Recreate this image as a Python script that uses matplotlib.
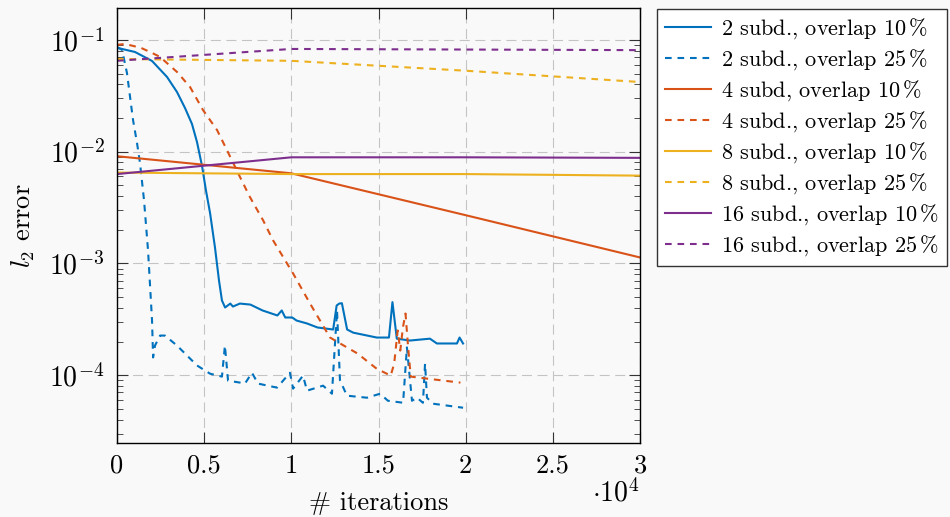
import numpy as np
import matplotlib
matplotlib.use("Agg")
import matplotlib.pyplot as plt
from matplotlib.ticker import FuncFormatter, LogLocator, FixedLocator

plt.rcParams['font.family'] = ['cmr10', 'DejaVu Serif']
plt.rcParams['mathtext.fontset'] = 'cm'
plt.rcParams['axes.unicode_minus'] = False
plt.rcParams['font.size'] = 17

# colours (pgfplots / matlab style)
blue = '#0072BD'
orange = '#D95319'
yellow = '#EDB120'
purple = '#7E2F8E'

# ---- data ----
# 2 subdomains
x_2_10 = [0, 1030, 2010, 2870, 3440, 3900, 4300, 4590, 4880, 5100, 5340, 5620, 5850,
          6020, 6200, 6500, 6650, 7050, 7650, 8350, 9200, 9450, 9650, 10050, 10300,
          10900, 11500, 12400, 12600, 12750, 12900, 13200, 13550, 14900, 15600,
          15800, 16050, 16800, 17950, 18350, 19500, 19650, 19850]
y_2_10 = [0.085, 0.078, 0.0648, 0.0466, 0.0342, 0.0246, 0.0177, 0.01217, 0.00741,
          0.00452, 0.00281, 0.00139, 0.000704, 0.000466, 0.000403, 0.000437,
          0.000411, 0.000437, 0.000428, 0.000379, 0.000342, 0.000379, 0.000328,
          0.000328, 0.000308, 0.00029, 0.000267, 0.000256, 0.00042, 0.000437,
          0.00044, 0.000256, 0.00024, 0.000217, 0.000217, 0.00045, 0.000212,
          0.000204, 0.000212, 0.000192, 0.000192, 0.000217, 0.000192]

x_2_25 = [0, 290, 570, 750, 920, 1150, 1320, 1550, 1780, 2010, 2070, 2180, 2470,
          2750, 3440, 4590, 5340, 6020, 6190, 6370, 7060, 7340, 7740, 8090, 9180,
          9920, 10100, 10670, 10900, 11820, 12330, 12620, 12790, 13190, 14340, 15090,
          15540, 16410, 16630, 16920, 17210, 17550, 17670, 17780, 18130, 19850]
y_2_25 = [0.0866, 0.0814, 0.0507, 0.0308, 0.0192, 0.0119, 0.0079, 0.00368, 0.00131,
          0.000308, 0.000144, 0.000184, 0.000226, 0.000226, 0.000184, 0.000122,
          0.000103, 0.000097, 0.000184, 0.0000893, 0.0000857, 0.000084, 0.000105,
          0.000084, 0.0000773, 0.000105, 0.0000757, 0.000099, 0.0000726, 0.0000805,
          0.0000682, 0.00038, 0.00009, 0.0000655, 0.0000628, 0.0000682, 0.000059,
          0.0000566, 0.000177, 0.000059, 0.0000628, 0.0000566, 0.000127, 0.0000628,
          0.0000555, 0.0000511]

# 4 subdomains
x_4_10 = [0, 10000, 20000, 30000]
y_4_10 = [0.0091, 0.0064, 0.0027, 0.00113]

x_4_25 = [0, 460, 1380, 2010, 2470, 3440, 4190, 4930, 5740, 6310, 7060, 7630, 8380,
          8950, 9750, 10100, 11070, 12220, 12800, 13800, 14900, 15700, 15900, 16100,
          16250, 16400, 16550, 16700, 16850, 17800, 19700]
y_4_25 = [0.0902, 0.0921, 0.0848, 0.0765, 0.0704, 0.0517, 0.0379, 0.0236, 0.0156,
          0.0103, 0.00591, 0.00391, 0.00243, 0.00161, 0.00100, 0.000813, 0.000438,
          0.000217, 0.000192, 0.000156, 0.000114, 0.000099, 0.000127, 0.000251,
          0.000166, 0.000267, 0.000356, 0.000177, 0.000097, 0.000093, 0.0000857]

# 8 subdomains
x_8 = [0, 10000, 20000, 30000]
y_8_10 = [0.0065, 0.0063, 0.0063, 0.0061]
y_8_25 = [0.0675, 0.065, 0.053, 0.042]

# 16 subdomains
x_16 = [0, 10000, 20000, 30000]
y_16_10 = [0.0063, 0.0089, 0.0089, 0.0088]
y_16_25 = [0.065, 0.083, 0.082, 0.081]

x_ticks = [0, 5000, 10000, 15000, 20000, 25000, 30000]

bg = '#f9f9f9'
fig = plt.figure(figsize=(9.5, 5.17), dpi=100, facecolor=bg)
ax = fig.add_axes([117/950, 74/517, 523/950, 435/517])
ax.set_facecolor(bg)

dash = (0, (3.2, 2.8))
lw = 1.5
ax.plot(x_2_10, y_2_10, color=blue, lw=lw, label=r'2 subd., overlap 10$\,$%')
ax.plot(x_2_25, y_2_25, color=blue, lw=lw, ls=dash, label=r'2 subd., overlap 25$\,$%')
ax.plot(x_4_10, y_4_10, color=orange, lw=lw, label=r'4 subd, overlap 10$\,$%')
ax.plot(x_4_25, y_4_25, color=orange, lw=lw, ls=dash, label=r'4 subd., overlap 25$\,$%')
ax.plot(x_8, y_8_10, color=yellow, lw=lw, label=r'8 subd., overlap 10$\,$%')
ax.plot(x_8, y_8_25, color=yellow, lw=lw, ls=dash, label=r'8 subd., overlap 25$\,$%')
ax.plot(x_16, y_16_10, color=purple, lw=lw, label=r'16 subd., overlap 10$\,$%')
ax.plot(x_16, y_16_25, color=purple, lw=lw, ls=dash, label=r'16 subd., overlap 25$\,$%')

ax.set_yscale('log')
ax.set_xlim(0, 30000)
ax.set_ylim(2.47e-5, 0.193)

ax.xaxis.set_major_locator(FixedLocator(x_ticks))
ax.xaxis.set_major_formatter(FuncFormatter(lambda v, p: f'{v/1e4:g}'))
ax.yaxis.set_major_locator(LogLocator(base=10, numticks=10))
ax.yaxis.set_minor_locator(LogLocator(base=10, subs=np.arange(2, 10), numticks=20))
ax.yaxis.set_major_formatter(FuncFormatter(lambda v, p: r'$10^{%d}$' % round(np.log10(v))))

ax.tick_params(which='both', direction='in', top=True, right=True, color='#333333')
ax.tick_params(which='major', length=8, width=0.8)
ax.tick_params(which='minor', length=4, width=0.6)
ax.tick_params(axis='x', pad=8, labelsize=19)
ax.tick_params(axis='y', pad=9, labelsize=20)

ax.grid(True, which='major', color='#c4c4c4', lw=0.8, ls=(0, (9, 5)))
ax.set_axisbelow(True)
for s in ax.spines.values():
    s.set_linewidth(1.0)

ax.set_xlabel('# iterations', fontsize=19, labelpad=10)
ax.set_ylabel(r'$l_2$ error', fontsize=19, labelpad=9)
ax.text(1.0, -0.082, r'$\cdot 10^{4}$', transform=ax.transAxes, ha='right', va='top',
        fontsize=20)

leg = ax.legend(loc='upper left', bbox_to_anchor=(1.032, 0.998), fontsize=16,
                frameon=True, fancybox=False, framealpha=1.0, edgecolor='#333333',
                handlelength=2.1, handletextpad=0.45, labelspacing=0.28,
                borderpad=0.35, borderaxespad=0)
leg.get_frame().set_linewidth(1.0)
leg.get_frame().set_facecolor('white')

fig.savefig('out.png', dpi=100, facecolor=bg)
